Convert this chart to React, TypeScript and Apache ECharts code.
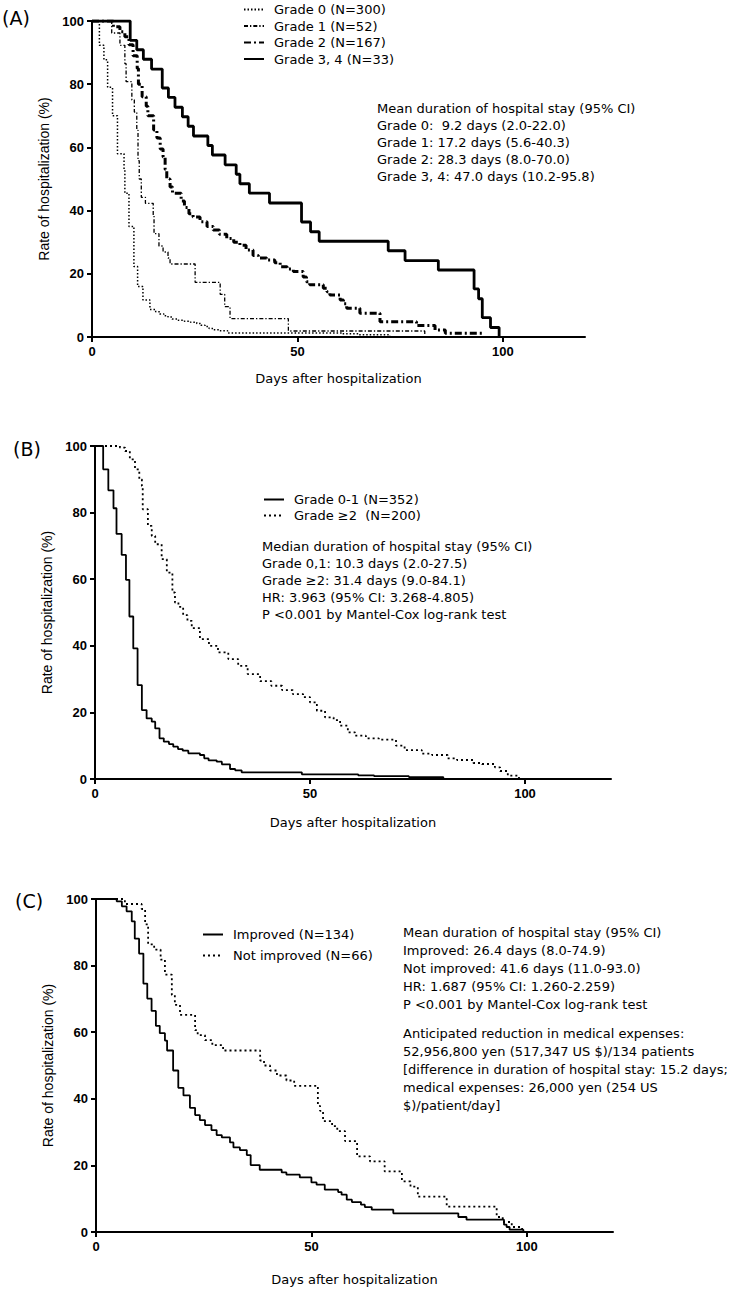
import React, { useEffect, useRef } from 'react';
import * as echarts from 'echarts';

// ---------- axes ----------
const xTicks = [0, 50, 100];
const X_MAX = 120;
const Y_MAX = 100;
const Y_STEP = 20;
const xTitle = 'Days after hospitalization';
const yTitle = 'Rate of hospitalization (%)';

// ---------- panel A (days, % still hospitalized) ----------
const namesA = ['Grade 0 (N=300)', 'Grade 1 (N=52)', 'Grade 2 (N=167)', 'Grade 3, 4 (N=33)'];
const gradeA0 = [
  [0, 100], [1.8, 92.3], [2.9, 87.7], [3.8, 79], [5, 70], [6.2, 58], [7.8, 53], [8, 45.5], [9, 35],
  [10.2, 22.3], [11.1, 16], [12.4, 11.7], [14.1, 8.7], [15.5, 8], [16.5, 7.3], [17.5, 6.7], [18.5, 6.3],
  [19.5, 5.7], [21, 5.3], [22.5, 5], [24, 4.7], [25.5, 4.3], [26.5, 3.7], [27.5, 3.3], [28.5, 2.7],
  [29.5, 2.3], [31, 2], [33, 1.3], [61, 1.0], [65, 0.7], [72.5, 0],
];
const gradeA1 = [
  [0, 100], [4.8, 96.2], [6.8, 92.3], [8.0, 86.5], [8.3, 80.8], [9.7, 75], [10.3, 71.2], [10.9, 65.4],
  [11.2, 55.8], [11.5, 50], [12, 44.2], [13, 42.3], [14.9, 38.5], [15.1, 32.7], [16.3, 28.8], [17.3, 26.9],
  [18.5, 25], [19, 23.1], [25.1, 17.3], [31.2, 13.5], [32.3, 9.6], [33.6, 5.8], [47.8, 1.9], [81, 0],
];
const gradeA2 = [
  [0, 100], [5.2, 98.2], [6.8, 96.6], [8, 95], [9, 92.5], [10, 89], [11, 85], [11.3, 80], [12.2, 76],
  [13.2, 73], [13.6, 70], [15, 65.5], [15.8, 63], [16.6, 59.5], [17.3, 57], [17.8, 53], [18.2, 50],
  [19, 47.5], [19.6, 45.5], [21.7, 43], [22.5, 41], [23.6, 39], [24.6, 38], [26.3, 36.5], [28, 35],
  [29.5, 33.9], [31, 32.5], [32.8, 31.2], [34.5, 30], [36, 29], [37.5, 27.5], [39.2, 25.8], [40.5, 25],
  [42.5, 24.4], [44.5, 23.5], [45.8, 22.2], [47.5, 21.5], [49, 20.7], [51.4, 19], [52.2, 17.5],
  [53, 16.5], [56.3, 15.4], [57.2, 14.3], [57.9, 13.3], [60.4, 11.7], [61.2, 10.5], [62, 9.1],
  [65.2, 7.5], [70.1, 4.8], [79, 3.6], [83.5, 2.2], [86, 1.2], [94.9, 0],
];
const gradeA34 = [
  [0, 100], [9.3, 93.9], [10.9, 90.9], [12.5, 87.9], [14.5, 84.8], [17.1, 78.8], [18.6, 75.8],
  [20.2, 72.7], [22.0, 69.7], [23.4, 66.7], [24.7, 63.6], [28.2, 60.6], [29.3, 57.6], [32.4, 54.5],
  [35.1, 51.5], [36.0, 48.5], [38.3, 45.5], [43.2, 42.4], [51.0, 36.4], [53.2, 33.3], [55.3, 30.3],
  [72.1, 27.3], [76.2, 24.2], [84.3, 21.2], [93.0, 15.2], [94.1, 12.1], [95.0, 6.1], [97.0, 3.0], [99.1, 0],
];
const notesA = [
  'Mean duration of hospital stay (95% CI)',
  'Grade 0:  9.2 days (2.0-22.0)',
  'Grade 1: 17.2 days (5.6-40.3)',
  'Grade 2: 28.3 days (8.0-70.0)',
  'Grade 3, 4: 47.0 days (10.2-95.8)',
];

// ---------- panel B ----------
const namesB = ['Grade 0-1 (N=352)', 'Grade ≥2  (N=200)'];
const gradeB01 = [
  [0, 100], [1.9, 93], [3.1, 86.7], [4.3, 81.3], [5.0, 73.6], [6.2, 67.3], [7.2, 59.8], [8.0, 48.8],
  [8.9, 39.2], [9.9, 28.2], [10.9, 20.7], [12, 18.2], [13.2, 17.2], [14, 15.2], [15, 12.2], [16, 11.2],
  [17.2, 10.5], [18.2, 9.7], [19.3, 9.0], [20.4, 8.5], [21.7, 7.7], [24.4, 7.2], [25.4, 6.2], [26.4, 5.6],
  [28.3, 5.2], [29.5, 4.4], [31.4, 3.0], [32.6, 2.6], [34.1, 2.0], [48.1, 1.4], [61.2, 1.1], [64.9, 0.85],
  [73, 0.57], [81, 0],
];
const gradeB2 = [
  [0, 100], [5.8, 99.5], [7, 98.5], [8.1, 96], [9.3, 93], [10.3, 90], [10.9, 88], [11.1, 81], [12.3, 76],
  [13.2, 73], [14, 70.5], [15.5, 66], [16.7, 62], [18, 56], [18.6, 53], [19.4, 51.7], [20.5, 49.2],
  [21.5, 47.5], [22.5, 45.3], [24.4, 42], [26.5, 40], [28.6, 38], [31, 36], [33.3, 34], [35.5, 31.5],
  [38.4, 29.4], [41, 28], [43.5, 26.7], [46, 25.5], [48.4, 24.6], [50, 23], [51.6, 20.5], [53.5, 18.5],
  [55.5, 17.7], [57, 16], [58.8, 14], [60.5, 13], [63, 12.2], [66, 11.8], [70, 10], [72, 8.7], [76, 7.6],
  [78.4, 7.2], [82, 6.2], [84.2, 5.7], [88, 4.8], [90, 4.5], [93, 3.5], [94.2, 2.4], [96, 1], [98.6, 0],
];
const notesB = [
  'Median duration of hospital stay (95% CI)',
  'Grade 0,1: 10.3 days (2.0-27.5)',
  'Grade ≥2: 31.4 days (9.0-84.1)',
  'HR: 3.963 (95% CI: 3.268-4.805)',
  'P <0.001 by Mantel-Cox log-rank test',
];

// ---------- panel C ----------
const namesC = ['Improved (N=134)', 'Not improved (N=66)'];
const improvedC = [
  [0, 100], [4.8, 99.3], [6, 97.8], [7.1, 96.3], [8.3, 93.3], [9, 88.1], [10, 83.6], [11, 74.6],
  [11.9, 70.1], [12.9, 66.4], [13.9, 61.9], [14.8, 59.7], [16, 57.5], [16.5, 54.5], [17.9, 48.5],
  [19.1, 43.3], [20.3, 41.0], [21.8, 37.3], [23, 35.1], [24.1, 33.6], [25.3, 32.1], [26.8, 30.6],
  [28, 29.1], [29.2, 28.4], [31.1, 26.9], [31.9, 25.4], [33.4, 24.6], [35, 23.1], [35.9, 20.1],
  [38, 18.7], [43.1, 17.9], [44.2, 17.2], [47.3, 16.4], [50, 14.9], [51.2, 14.2], [53.1, 12.7],
  [56.2, 12.0], [57, 11.2], [58.2, 9.7], [59.4, 9.0], [61.5, 8.2], [62.4, 7.5], [64, 6.7], [69, 5.6],
  [84.1, 4.5], [86, 3.7], [94.7, 2.2], [95.3, 1.5], [96, 0.7], [99.2, 0],
];
const notImprovedC = [
  [0, 100], [6.7, 98.5], [10.6, 97], [11.4, 92.4], [12.1, 86.4], [13.5, 84.8], [15.0, 81.8], [16, 77.3],
  [17.6, 71.2], [18.3, 68.2], [19.5, 65.2], [23, 60.6], [23.6, 59.1], [25.3, 57.6], [27, 56.1],
  [29.5, 54.5], [38.1, 51.5], [39, 50], [40.4, 48.5], [42, 47], [44.2, 45.5], [46, 43.9], [51.5, 37.9],
  [52, 36.4], [52.7, 33.3], [54.8, 31.8], [56, 30.3], [57.8, 27.3], [60.6, 22.7], [63.6, 21.2],
  [67, 18.2], [71, 15.2], [73, 13.6], [74.7, 10.6], [81.4, 7.6], [93, 4.5], [94.4, 3], [96.5, 1.5], [98.9, 0],
];
const notesC1 = [
  'Mean duration of hospital stay (95% CI)',
  'Improved: 26.4 days (8.0-74.9)',
  'Not improved: 41.6 days (11.0-93.0)',
  'HR: 1.687 (95% CI: 1.260-2.259)',
  'P <0.001 by Mantel-Cox log-rank test',
];
const notesC2 = [
  'Anticipated reduction in medical expenses:',
  '52,956,800 yen (517,347 US $)/134 patients',
  '[difference in duration of hospital stay: 15.2 days;',
  'medical expenses: 26,000 yen (254 US',
  '$)/patient/day]',
];
const panelLabels = ['(A)', '(B)', '(C)'];

const BLACK = '#000';
const TXT = '"DejaVu Sans", Verdana, sans-serif';
const AXF = '"Liberation Sans", Arial, sans-serif';

function makeX(gridIndex: number, nameGap: number) {
  return {
    type: 'value', gridIndex, min: 0, max: X_MAX, interval: 50,
    name: xTitle, nameLocation: 'middle', nameGap,
    nameTextStyle: { fontFamily: TXT, fontSize: 13, color: BLACK },
    axisLine: { onZero: false, lineStyle: { color: BLACK, width: 2 } },
    axisTick: { show: true, length: 5, customValues: xTicks, lineStyle: { color: BLACK, width: 2 } },
    axisLabel: { customValues: xTicks, fontFamily: AXF, fontWeight: 'bold', fontSize: 13, color: BLACK, margin: 8 },
    splitLine: { show: false },
  };
}
function makeY(gridIndex: number, nameGap: number) {
  return {
    type: 'value', gridIndex, min: 0, max: Y_MAX, interval: Y_STEP,
    name: yTitle, nameLocation: 'middle', nameGap, nameRotate: 90,
    nameTextStyle: { fontFamily: AXF, fontSize: 14, color: BLACK },
    axisLine: { show: true, onZero: false, lineStyle: { color: BLACK, width: 2 } },
    axisTick: { show: true, length: 5, lineStyle: { color: BLACK, width: 2 } },
    axisLabel: { fontFamily: AXF, fontWeight: 'bold', fontSize: 13, color: BLACK, margin: 8 },
    splitLine: { show: false },
  };
}
function km(name: string, data: number[][], idx: number, width: number, type: any) {
  return {
    name, type: 'line', step: 'end', data, xAxisIndex: idx, yAxisIndex: idx,
    symbol: 'none', showSymbol: false, silent: true,
    lineStyle: { color: BLACK, width, type },
    itemStyle: { color: BLACK },
  };
}
function legend(data: string[], left: number, top: number, gap: number) {
  return {
    data, left, top, padding: 0, orient: 'vertical', itemWidth: 20, itemHeight: 14, itemGap: gap,
    selectedMode: false, itemStyle: { opacity: 0 },
    textStyle: { fontFamily: TXT, fontSize: 13, color: BLACK, padding: [0, 0, 0, 5] },
  };
}
function texts(lines: string[], x: number, y0: number, step: number) {
  return lines.map((t, i) => ({
    type: 'text', x, y: y0 + i * step, silent: true,
    style: { text: t, fontFamily: TXT, fontSize: 13, fill: BLACK, verticalAlign: 'middle' },
  }));
}

export default function App() {
  const ref = useRef<HTMLDivElement>(null);
  useEffect(() => {
    document.body.style.margin = '0';
    const chart = echarts.init(ref.current!, null, { renderer: 'svg' });
    chart.setOption({
      animation: false,
      backgroundColor: '#fff',
      grid: [
        { left: 92, top: 21, width: 493, height: 316 },
        { left: 95, top: 446, width: 516, height: 333 },
        { left: 96, top: 899, width: 517, height: 333 },
      ],
      xAxis: [makeX(0, 35), makeX(1, 37), makeX(2, 41)],
      yAxis: [makeY(0, 38), makeY(1, 41), makeY(2, 39)],
      legend: [legend(namesA, 243, 3, 3.5), legend(namesB, 263, 493, 3), legend(namesC, 202, 928, 8)],
      series: [
        km(namesA[0], gradeA0, 0, 1.5, [1.5, 2]),
        km(namesA[1], gradeA1, 0, 1.3, [4, 2, 1.3, 2]),
        km(namesA[2], gradeA2, 0, 3, [7, 3, 2, 3]),
        km(namesA[3], gradeA34, 0, 2.8, 'solid'),
        km(namesB[0], gradeB01, 1, 1.8, 'solid'),
        km(namesB[1], gradeB2, 1, 1.8, [2, 3]),
        km(namesC[0], improvedC, 2, 1.8, 'solid'),
        km(namesC[1], notImprovedC, 2, 1.8, [2, 3]),
      ],
      graphic: [
        ...panelLabels.map((t, i) => ({
          type: 'text', x: [2, 13, 15][i], y: [18, 449, 901][i], silent: true,
          style: { text: t, fontFamily: TXT, fontSize: 19, fill: BLACK, verticalAlign: 'middle' },
        })),
        ...texts(notesA, 377, 108, 17),
        ...texts(notesB, 262, 546, 17),
        ...texts(notesC1, 403, 932, 18),
        ...texts(notesC2, 403, 1033, 18),
      ],
    });
    return () => chart.dispose();
  }, []);
  return <div ref={ref} style={{ width: 741, height: 1292 }} />;
}
